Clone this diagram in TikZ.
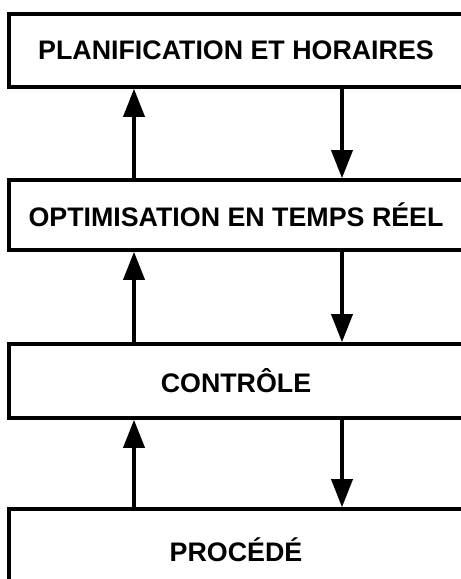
\documentclass[tikz,border=0pt]{standalone}
\usepackage{fontspec}
\setmainfont{Liberation Sans}
\usetikzlibrary{arrows.meta}
\begin{document}
\begin{tikzpicture}[x=1pt,y=-1pt,
  level/.style={draw=black, line width=3.6pt, rectangle, minimum width=454pt,
    inner sep=0pt, font=\fontsize{26.8}{30}\selectfont\bfseries},
  flow/.style={line width=3.8pt, -{Triangle[length=28pt,width=21pt]}}]
  \useasboundingbox (0,0) rectangle (461,579);
  \node[level, minimum height=73pt] (plan) at (236,50.5) {PLANIFICATION ET HORAIRES};
  \node[level, minimum height=70pt] (optim) at (236,215) {OPTIMISATION EN TEMPS RÉEL};
  \node[level, minimum height=74pt] (ctrl) at (236,381) {CONTRÔLE};
  \node[level, minimum height=82pt] (proc) at (236,550) {PROCÉDÉ};
  \coordinate (up) at (134,0);
  \coordinate (down) at (342,0);
  \draw[flow] (optim.north -| up) -- (plan.south -| up);
  \draw[flow] (plan.south -| down) -- (optim.north -| down);
  \draw[flow] (ctrl.north -| up) -- (optim.south -| up);
  \draw[flow] (optim.south -| down) -- (ctrl.north -| down);
  \draw[flow] (proc.north -| up) -- (ctrl.south -| up);
  \draw[flow] (ctrl.south -| down) -- (proc.north -| down);
\end{tikzpicture}
\end{document}
